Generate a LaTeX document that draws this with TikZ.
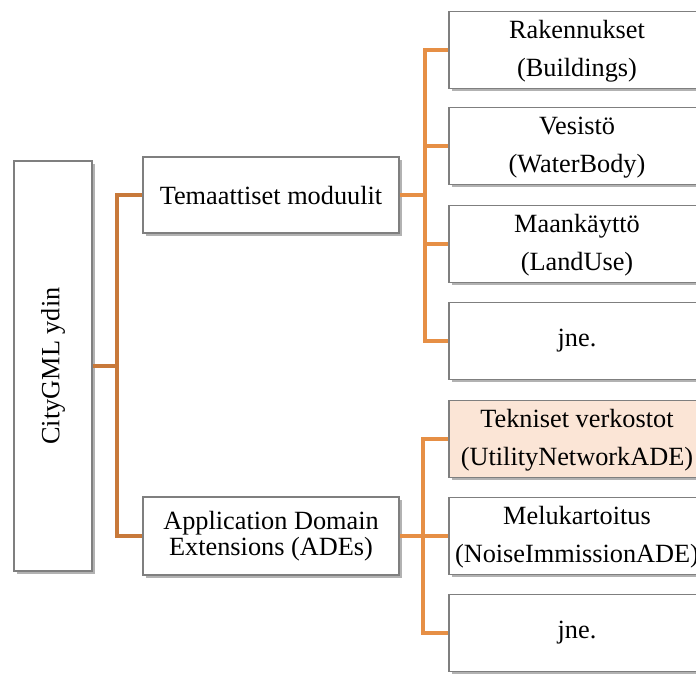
\documentclass[tikz,border=0pt]{standalone}
\usepackage{fontspec}
\setmainfont{Liberation Serif}
\usetikzlibrary{shadows}
\definecolor{boxline}{HTML}{7F7F7F}
\definecolor{coreline}{HTML}{C8793A}
\definecolor{branchline}{HTML}{E68F45}
\definecolor{hilite}{HTML}{FBE5D6}
% two centred lines, set slightly low in their box
\newcommand{\twolines}[2]{\raisebox{-3pt}{\begin{tabular}{@{}c@{}}#1\\#2\end{tabular}}}
\newcommand{\oneline}[1]{\raisebox{-3pt}{#1}}
\begin{document}
\begin{tikzpicture}[x=1pt,y=-1pt,
  every node/.style={font=\fontsize{26.3}{38.5}\selectfont},
  box/.style={draw=boxline, line width=1.1pt, fill=white, rectangle,
    inner sep=0pt, align=center,
    drop shadow={shadow xshift=2.5pt, shadow yshift=-2.5pt, fill=black, opacity=0.3}},
  leaf/.style={box, minimum width=256pt, minimum height=77pt},
  corelink/.style={draw=coreline, line width=4pt},
  branchlink/.style={draw=branchline, line width=4pt}]
\useasboundingbox (0,0) rectangle (696,673);
\clip (0,0) rectangle (696,673);

% core module
\node[box, minimum width=78pt, minimum height=410pt] (core) at (53,366)
  {\rotatebox{90}{CityGML ydin}};

% second level
\node[box, minimum width=256pt, minimum height=76pt] (tema) at (271,195)
  {Temaattiset moduulit};
\node[box, minimum width=256pt, minimum height=78pt,
  font=\fontsize{26.3}{26.5}\selectfont] (ade) at (271,536)
  {Application Domain\\Extensions (ADEs)};

% thematic modules
\node[leaf] (rak) at (577,50)  {\twolines{Rakennukset}{(Buildings)}};
\node[leaf] (ves) at (577,146) {\twolines{Vesistö}{(WaterBody)}};
\node[leaf] (maa) at (577,244) {\twolines{Maankäyttö}{(LandUse)}};
\node[leaf] (jne1) at (577,341) {\oneline{jne.}};

% application domain extensions
\node[leaf, fill=hilite] (tek) at (577,439) {\twolines{Tekniset verkostot}{(UtilityNetworkADE)}};
\node[leaf] (mel) at (577,536) {\twolines{Melukartoitus}{(NoiseImmissionADE)}};
\node[leaf] (jne2) at (577,633) {\oneline{jne.}};

% junctions
\coordinate (j1) at (117,366);
\coordinate (j2) at (425,195);
\coordinate (j3) at (423,536);

% connectors
\draw[corelink] (core.east) -- (j1);
\draw[corelink] (j1) |- (tema.west);
\draw[corelink] (j1) |- (ade.west);

\draw[branchlink] (tema.east) -- (j2);
\draw[branchlink] (j2) |- (rak.west);
\draw[branchlink] (j2) |- (ves.west);
\draw[branchlink] (j2) |- (maa.west);
\draw[branchlink] (j2) |- (jne1.west);

\draw[branchlink] (ade.east) -- (j3);
\draw[branchlink] (j3) |- (tek.west);
\draw[branchlink] (j3) |- (mel.west);
\draw[branchlink] (j3) |- (jne2.west);
\end{tikzpicture}
\end{document}
